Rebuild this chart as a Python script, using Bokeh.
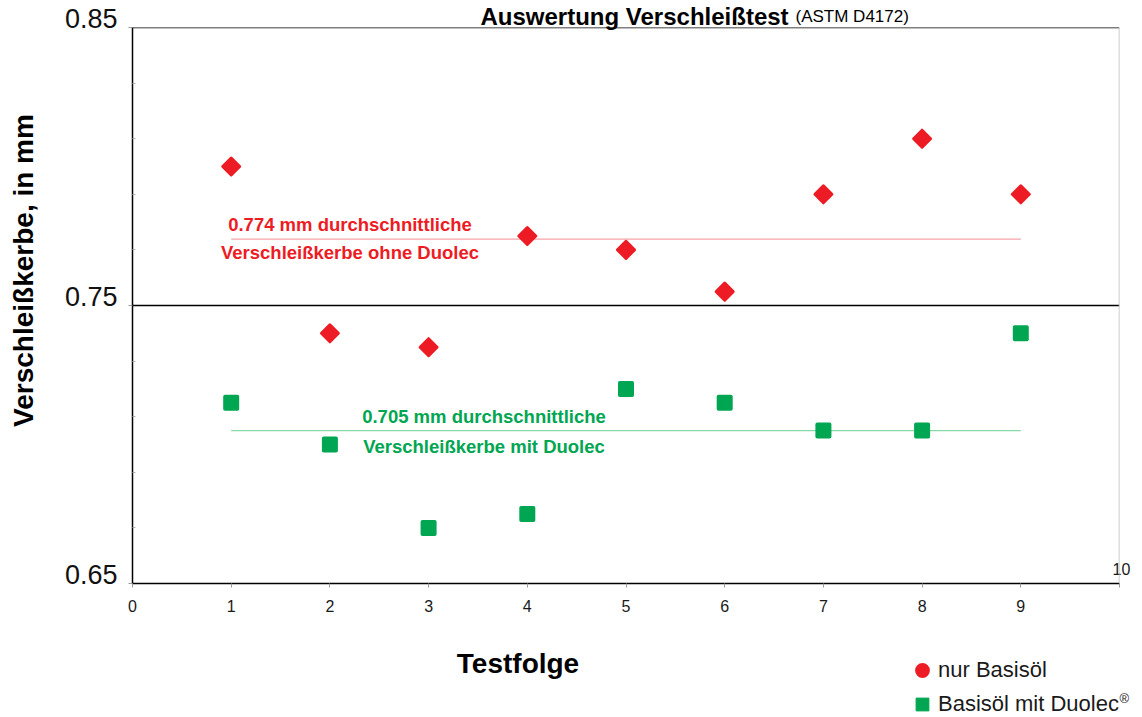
import numpy as np
from bokeh.plotting import figure
from bokeh.models import (Range1d, FixedTicker, Span, Label, Legend, LegendItem, LinearAxis)
from bokeh.embed import file_html
from bokeh.resources import INLINE

# ---------------- data ----------------
test_nr = [1, 2, 3, 4, 5, 6, 7, 8, 9]
nur_basisoel = [0.800, 0.740, 0.735, 0.775, 0.770, 0.755, 0.790, 0.810, 0.790]
mit_duolec = [0.715, 0.700, 0.670, 0.675, 0.720, 0.715, 0.705, 0.705, 0.740]
x_ticks = [0, 1, 2, 3, 4, 5, 6, 7, 8, 9, 10]
y_ticks = [0.65, 0.75, 0.85]
y_minor_ticks = [0.67, 0.69, 0.71, 0.73, 0.77, 0.79, 0.81, 0.83]

title_main = "Auswertung Verschleißtest"
title_sub = "(ASTM D4172)"
x_label = "Testfolge"
y_label = "Verschleißkerbe, in mm"
legend_red = "nur Basisöl"
legend_green = "Basisöl mit Duolec"
legend_green_sup = "®"

RED = "#ED1C24"
GREEN = "#00A651"
RED_LIGHT = "#F6A3A8"
GREEN_LIGHT = "#86D8A6"
FONT = "Liberation Sans"

avg_red = float(np.mean(nur_basisoel))
avg_green = float(np.mean(mit_duolec))

W, H = 1142, 717

# ---------------- main chart ----------------
p = figure(width=W, height=H, output_backend="svg", toolbar_location=None,
           x_range=Range1d(0, 10), y_range=Range1d(0.65, 0.85),
           min_border_left=132, min_border_right=23, min_border_top=27, min_border_bottom=134,
           background_fill_color="white", border_fill_color="white")
p.outline_line_color = None
p.xgrid.visible = False
p.ygrid.visible = False

xa = p.xaxis[0]
xa.ticker = FixedTicker(ticks=x_ticks, minor_ticks=[])
xa.major_label_overrides = {x_ticks[-1]: ""}
xa.axis_line_color = "black"
xa.axis_line_width = 1.5
xa.major_tick_in = 0
xa.major_tick_out = 4
xa.major_tick_line_color = "#9a9a9a"
xa.minor_tick_line_color = None
xa.major_label_standoff = 12
xa.major_label_text_font = FONT
xa.major_label_text_font_size = "16px"
xa.major_label_text_color = "#1a1a1a"

# y axis (labels sit a little above their ticks, as in the original)
ya = p.yaxis[0]
ya.ticker = FixedTicker(ticks=y_ticks, minor_ticks=y_minor_ticks)
ya.major_label_overrides = {t: f"{t:.2f}\n " for t in y_ticks}
ya.major_label_text_line_height = 0.56
ya.axis_line_color = "black"
ya.axis_line_width = 1.5
ya.major_tick_in = 0
ya.major_tick_out = 4
ya.major_tick_line_color = "#9a9a9a"
ya.minor_tick_in = 3
ya.minor_tick_out = 0
ya.minor_tick_line_color = "#b0b0b0"
ya.major_label_standoff = 11
ya.major_label_text_font = FONT
ya.major_label_text_font_size = "27px"
ya.major_label_text_color = "#111111"

# the "10" label of the last x tick, raised above the axis at the right edge
ra = LinearAxis(ticker=FixedTicker(ticks=[y_ticks[0]], minor_ticks=[]),
                major_label_overrides={y_ticks[0]: f"{x_ticks[-1]}\n "},
                major_label_text_line_height=1.68,
                axis_line_color=None, major_tick_line_color=None, minor_tick_line_color=None,
                major_tick_in=0, major_tick_out=0, minor_tick_in=0, minor_tick_out=0,
                major_label_standoff=-7, major_label_text_font=FONT,
                major_label_text_font_size="16px", major_label_text_color="#1a1a1a")
p.add_layout(ra, "right")

# frame lines
p.add_layout(Span(location=0.85, dimension="width", line_color="black", line_width=1.5))
p.add_layout(Span(location=0.75, dimension="width", line_color="black", line_width=1.5))
p.add_layout(Span(location=10, dimension="height", line_color="#bdbdbd", line_width=1.5))

# average lines
p.line(x=[test_nr[0], test_nr[-1]], y=[avg_red, avg_red], line_color=RED_LIGHT, line_width=1.2)
p.line(x=[test_nr[0], test_nr[-1]], y=[avg_green, avg_green], line_color=GREEN_LIGHT, line_width=1.2)

# data markers
p.scatter(x=test_nr, y=nur_basisoel, marker="square", angle=np.pi / 4, size=12,
          fill_color=RED, line_color=RED, line_width=3, line_join="round")
p.scatter(x=test_nr, y=mit_duolec, marker="square", size=12.5,
          fill_color=GREEN, line_color=GREEN, line_width=3.5, line_join="round")

# average annotations
def ann(text, x, y, yoff, color):
    p.add_layout(Label(x=x, y=y, x_units="screen", y_units="data", y_offset=yoff, text=text,
                       text_align="center", text_baseline="alphabetic", text_color=color,
                       text_font=FONT, text_font_style="bold", text_font_size="18.5px"))

ann(f"{avg_red:.3f} mm durchschnittliche", 217.5, avg_red, 15, RED)
ann("Verschleißkerbe ohne Duolec", 217.5, avg_red, -13.5, RED)
ann(f"{avg_green:.3f} mm durchschnittliche", 351.5, avg_green, 14, GREEN)
ann("Verschleißkerbe mit Duolec", 351.5, avg_green, -16, GREEN)

# ---------------- transparent overlay for texts outside the plot area ----------------
ov = figure(width=W, height=H, output_backend="svg", toolbar_location=None,
            x_range=Range1d(0, W), y_range=Range1d(H, 0),
            x_axis_type=None, y_axis_type=None, min_border=0,
            background_fill_alpha=0, border_fill_alpha=0,
            styles={"position": "absolute", "top": "0px", "left": "0px"})
ov.outline_line_color = None
ov.grid.visible = False

def txt(text, x, y, size, bold=False, align="left", angle=0.0, color="black"):
    ov.add_layout(Label(x=x, y=y, text=text, angle=angle, text_align=align,
                        text_baseline="alphabetic", text_font=FONT,
                        text_font_style="bold" if bold else "normal",
                        text_font_size=size, text_color=color))

txt(title_main, 480, 16, "24px", bold=True)
txt(title_sub, 795, 16, "17px")
txt(x_label, 517.5, 663, "28px", bold=True, align="center")
txt(y_label, 23, 270, "28px", bold=True, align="center", angle=np.pi / 2)
txt(legend_green_sup, 1119, 698, "13px", color="#1a1a1a")

r_leg_red = ov.scatter(x=[np.nan], y=[np.nan], marker="circle", size=14,
                       fill_color=RED, line_color=RED, line_width=2)
r_leg_green = ov.scatter(x=[np.nan], y=[np.nan], marker="square", size=12,
                         fill_color=GREEN, line_color=GREEN, line_width=1, line_join="round")
legend = Legend(items=[LegendItem(label=legend_red, renderers=[r_leg_red]),
                       LegendItem(label=legend_green, renderers=[r_leg_green])],
                location=(906, -3), orientation="vertical",
                glyph_width=32, glyph_height=32, label_height=32, spacing=2,
                label_standoff=0, padding=0, margin=0,
                border_line_color=None, background_fill_alpha=0,
                label_text_font=FONT, label_text_font_size="22px", label_text_color="#1a1a1a")
ov.add_layout(legend, "center")

open("out.html", "w").write(file_html([p, ov], INLINE))
